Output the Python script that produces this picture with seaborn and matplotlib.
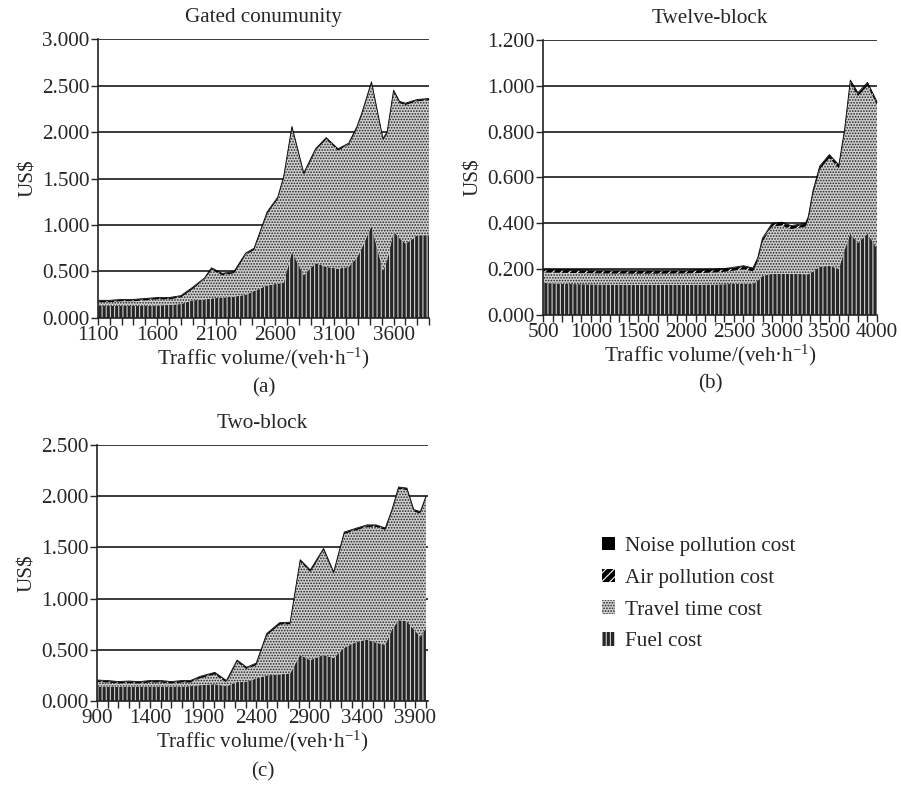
import numpy as np
import matplotlib
matplotlib.use("Agg")
import matplotlib.pyplot as plt
from matplotlib.patches import Patch
import seaborn as sns

# --- data (US$ per vehicle) ---
# (a) Gated community
a_volume = [1100, 1200, 1300, 1400, 1500, 1600, 1700, 1800, 1900, 2000, 2060, 2150,
            2250, 2350, 2420, 2530, 2620, 2670, 2740, 2840, 2940, 3030, 3130, 3220,
            3290, 3330, 3413, 3510, 3545, 3600, 3650, 3700, 3750, 3800, 3900]
a_fuel = [0.130, 0.130, 0.130, 0.130, 0.130, 0.135, 0.140, 0.150, 0.190, 0.200, 0.210, 0.220,
          0.230, 0.250, 0.290, 0.350, 0.370, 0.380, 0.710, 0.460, 0.590, 0.550, 0.530, 0.550,
          0.650, 0.750, 0.990, 0.510, 0.620, 0.930, 0.860, 0.800, 0.840, 0.890, 0.890]
a_travel = [0.040, 0.040, 0.050, 0.050, 0.060, 0.065, 0.060, 0.070, 0.120, 0.210, 0.310, 0.240,
            0.250, 0.430, 0.440, 0.770, 0.910, 1.120, 1.330, 1.080, 1.210, 1.370, 1.270, 1.310,
            1.390, 1.430, 1.530, 1.400, 1.360, 1.500, 1.450, 1.490, 1.470, 1.440, 1.450]
a_air = [0.015] * len(a_volume)
a_noise = [0.005] * len(a_volume)

# (b) Twelve-block
b_volume = [500, 800, 1100, 1400, 1700, 2000, 2300, 2450, 2600, 2700, 2750, 2800, 2900,
            3000, 3100, 3250, 3280, 3330, 3400, 3500, 3600, 3660, 3720, 3800, 3900, 4000]
b_fuel = [0.140, 0.135, 0.133, 0.132, 0.132, 0.132, 0.133, 0.135, 0.137, 0.137, 0.150, 0.170,
          0.180, 0.180, 0.180, 0.178, 0.178, 0.190, 0.210, 0.215, 0.200, 0.285, 0.355, 0.315,
          0.355, 0.290]
b_travel = [0.045, 0.048, 0.048, 0.048, 0.048, 0.049, 0.052, 0.055, 0.063, 0.053, 0.085, 0.150,
            0.205, 0.210, 0.195, 0.207, 0.237, 0.340, 0.425, 0.470, 0.440, 0.510, 0.655, 0.640,
            0.645, 0.625]
b_air = [0.012] * len(b_volume)
b_noise = [0.003] * len(b_volume)

# (c) Two-block
c_volume = [900, 1000, 1100, 1200, 1300, 1400, 1500, 1600, 1700, 1780, 1870, 2010, 2120,
            2220, 2310, 2400, 2500, 2620, 2720, 2815, 2910, 3035, 3130, 3230, 3350, 3445,
            3530, 3617, 3680, 3742, 3820, 3885, 3947, 4000]
c_fuel = [0.140, 0.140, 0.140, 0.140, 0.140, 0.140, 0.140, 0.140, 0.140, 0.145, 0.155, 0.165,
          0.145, 0.185, 0.190, 0.220, 0.250, 0.260, 0.270, 0.450, 0.400, 0.450, 0.420, 0.520,
          0.580, 0.600, 0.570, 0.550, 0.700, 0.790, 0.780, 0.700, 0.630, 0.710]
c_travel = [0.045, 0.040, 0.030, 0.035, 0.030, 0.040, 0.040, 0.030, 0.040, 0.035, 0.065, 0.095,
            0.035, 0.195, 0.120, 0.130, 0.390, 0.485, 0.480, 0.910, 0.860, 1.020, 0.820, 1.110,
            1.090, 1.100, 1.130, 1.120, 1.150, 1.280, 1.280, 1.150, 1.200, 1.270]
c_air = [0.015] * len(c_volume)
c_noise = [0.005] * len(c_volume)

layers = ["Fuel cost", "Travel time cost", "Air pollution cost", "Noise pollution cost"]

sns.set_style("white")
plt.rcParams["font.family"] = ["Liberation Serif", "DejaVu Serif"]
plt.rcParams["mathtext.fontset"] = "custom"
plt.rcParams["mathtext.rm"] = "Liberation Serif"
plt.rcParams["mathtext.it"] = "Liberation Serif:italic"
plt.rcParams["hatch.linewidth"] = 0.8
FS = 15.2

styles = {
    "Fuel cost": dict(facecolor="#262626", edgecolor="#cfcfcf", hatch="||||"),
    "Travel time cost": dict(facecolor="#d0d0d0", edgecolor="#1e1e1e", hatch="......"),
    "Air pollution cost": dict(facecolor="black", edgecolor="white", hatch="////"),
    "Noise pollution cost": dict(facecolor="black", edgecolor="black", hatch=None),
}

fig = plt.figure(figsize=(9.01, 7.93), dpi=100)
H = 793.0

panels = [
    ("Gated conumunity", "(a)", a_volume, [a_fuel, a_travel, a_air, a_noise],
     [0.1088, 0.599, 0.3674, 0.3518], (1100, 3900), 3.0, 0.5, 1100, 388),
    ("Twelve-block", "(b)", b_volume, [b_fuel, b_travel, b_air, b_noise],
     [0.6027, 0.6028, 0.3707, 0.3468], (500, 4000), 1.2, 0.2, 500, 384),
    ("Two-block", "(c)", c_volume, [c_fuel, c_travel, c_air, c_noise],
     [0.1077, 0.116, 0.3674, 0.3228], (900, 4020), 2.5, 0.5, 900, 772),
]

for title, tag, vol, series, rect, xlim, ymax, ystep, xstart, tag_y in panels:
    ax = fig.add_axes(rect)
    x = np.array(vol, dtype=float)
    base = np.zeros_like(x)
    for name, vals in zip(layers, series):
        top = base + np.array(vals)
        ax.fill_between(x, base, top, linewidth=0, zorder=3, **styles[name])
        base = top
    sns.lineplot(x=x, y=base, ax=ax, color="black", linewidth=0.6, zorder=4)

    ax.set_xlim(*xlim)
    ax.set_ylim(0, ymax)
    yt = np.arange(0, ymax + 1e-9, ystep)
    ax.set_yticks(yt)
    ax.set_yticklabels([f"{v:.3f}" for v in yt])
    ax.set_xticks(np.arange(xstart, xlim[1] + 1, 100), minor=True)
    ax.set_xticks(np.arange(xstart, xlim[1] + 1, 500))
    ax.tick_params(axis="x", which="both", direction="out", length=5, width=1, bottom=True)
    ax.tick_params(axis="y", direction="out", length=5, width=1, left=True)
    ax.tick_params(labelsize=FS, pad=1)
    ax.yaxis.grid(True, color="#3a3a3a", linewidth=1.4, zorder=1)
    ax.xaxis.grid(False)
    ax.set_axisbelow(True)
    sns.despine(ax=ax)
    for s in ("left", "bottom"):
        ax.spines[s].set_color("#222222")
        ax.spines[s].set_linewidth(1.2)
        ax.spines[s].set_zorder(5)
    ax.set_title(title, fontsize=FS, pad=12)
    ax.set_ylabel("US$", fontsize=FS, labelpad=3)
    ax.set_xlabel("Traffic volume/(veh·h$^{-1}$)", fontsize=FS, labelpad=0)
    fig.text(rect[0] + rect[2] / 2, 1 - tag_y / H, tag, ha="center", va="center",
             fontsize=FS)

handles = [Patch(label=name, linewidth=0, **styles[name]) for name in layers[::-1]]
fig.legend(handles=handles, loc="upper left", bbox_to_anchor=(0.647, 0.347),
           frameon=False, fontsize=FS, handlelength=0.6, handleheight=0.6,
           handletextpad=0.5, labelspacing=0.6)

fig.savefig("out.png", dpi=100)
